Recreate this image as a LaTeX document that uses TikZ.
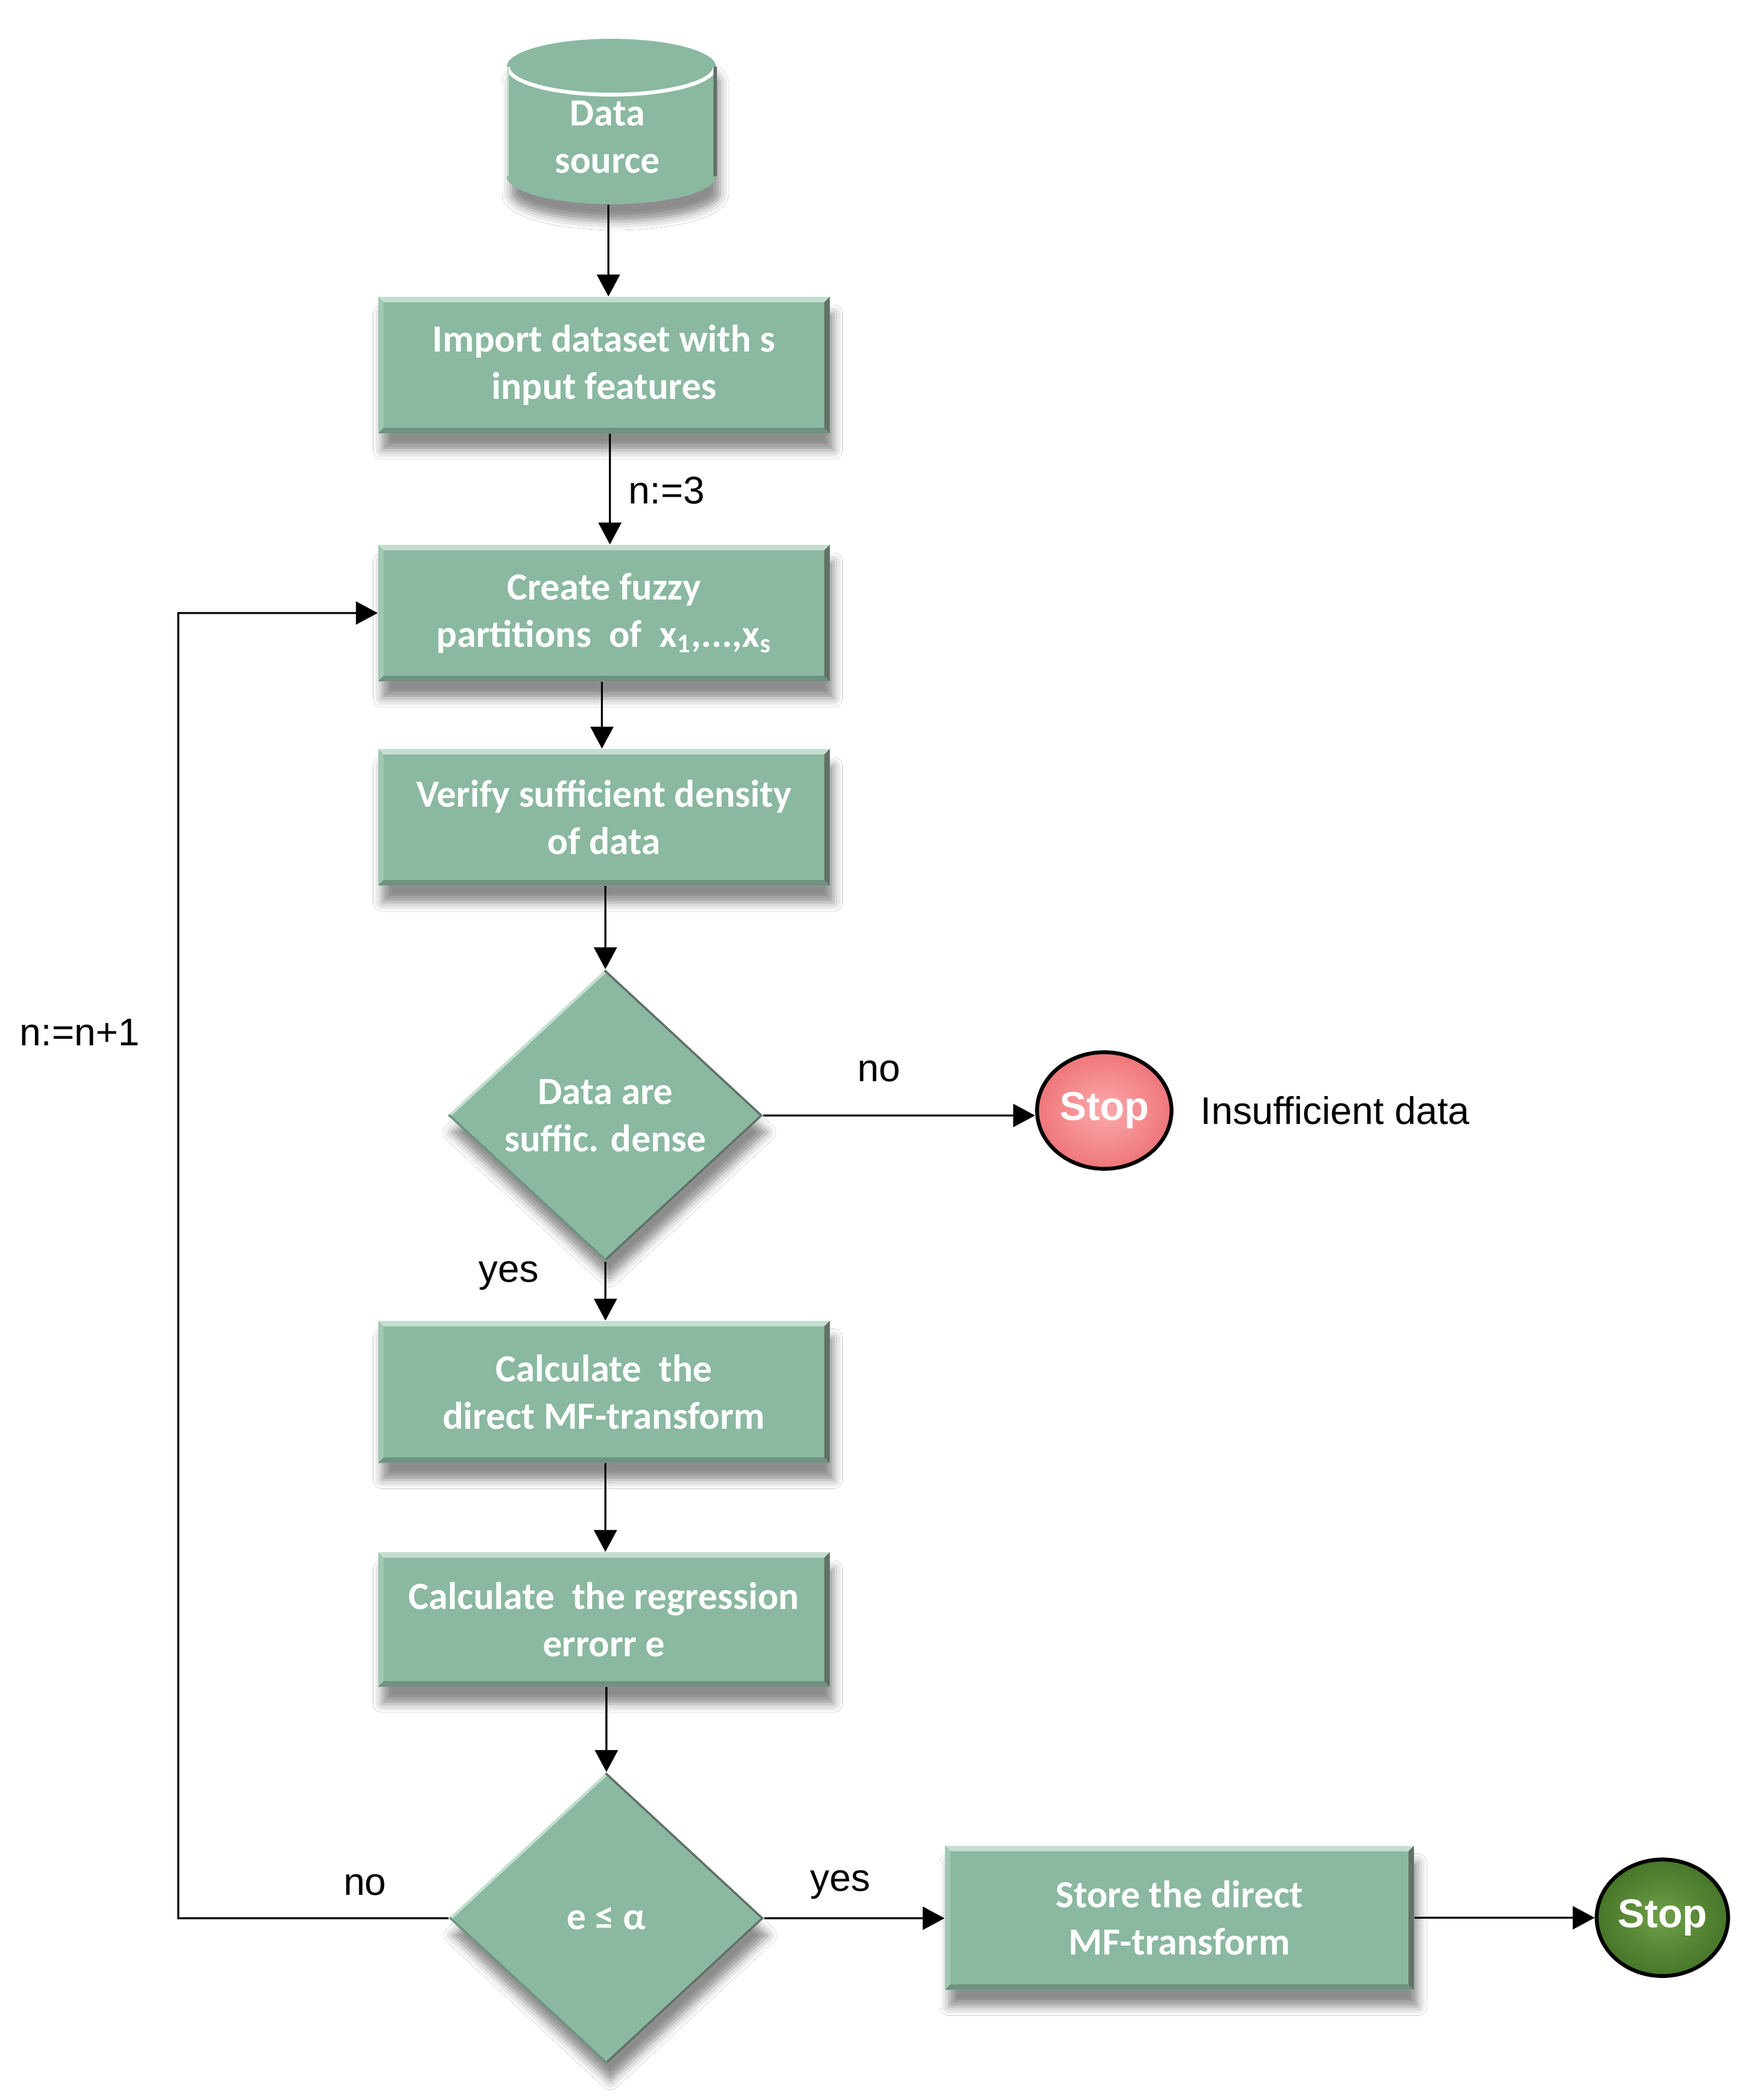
\documentclass[tikz,border=0pt]{standalone}
\usepackage{fontspec}
\setmainfont{Liberation Sans}
\newfontfamily\boxfnt{Carlito}
\usetikzlibrary{shapes.geometric,arrows.meta,shadows.blur}
\definecolor{boxgreen}{RGB}{138,184,160}
\definecolor{boxlight}{RGB}{196,222,208}
\definecolor{boxmid}{RGB}{160,200,178}
\definecolor{boxdark}{RGB}{112,146,128}
\definecolor{boxedge}{RGB}{98,112,104}
\definecolor{stopred}{RGB}{238,118,122}
\definecolor{stopredl}{RGB}{252,170,172}
\definecolor{stopgreen}{RGB}{70,118,40}
\definecolor{stopgreenl}{RGB}{112,160,72}
\newcommand\bev{0.11cm}
\tikzset{
  boxtext/.style={text=white, font=\boxfnt\bfseries\fontsize{22}{27}\selectfont, align=center},
  shad/.style={blur shadow={shadow xshift=0.08cm, shadow yshift=-0.34cm, shadow blur radius=0.18cm, shadow opacity=45}},
  procbox/.style={boxtext, rectangle, fill=boxgreen, minimum width=9.07cm, minimum height=2.74cm, inner sep=0pt, shad,
    path picture={
      \fill[boxlight] (path picture bounding box.north west) -- (path picture bounding box.north east) -- ([xshift=-\bev,yshift=-\bev]path picture bounding box.north east) -- ([xshift=\bev,yshift=-\bev]path picture bounding box.north west) -- cycle;
      \fill[boxmid] (path picture bounding box.north west) -- ([xshift=\bev,yshift=-\bev]path picture bounding box.north west) -- ([xshift=\bev,yshift=\bev]path picture bounding box.south west) -- (path picture bounding box.south west) -- cycle;
      \fill[boxdark] (path picture bounding box.south west) -- ([xshift=\bev,yshift=\bev]path picture bounding box.south west) -- ([xshift=-\bev,yshift=\bev]path picture bounding box.south east) -- (path picture bounding box.south east) -- cycle;
      \fill[boxedge] (path picture bounding box.north east) -- ([xshift=-\bev,yshift=-\bev]path picture bounding box.north east) -- ([xshift=-\bev,yshift=\bev]path picture bounding box.south east) -- (path picture bounding box.south east) -- cycle;
    }},
  decision/.style={boxtext, diamond, aspect=1.1, fill=boxgreen, minimum width=6.33cm, minimum height=5.86cm, inner sep=0pt, shad,
    path picture={
      \draw[boxlight, line width=3pt] (path picture bounding box.west) -- (path picture bounding box.north);
      \draw[boxedge, line width=2.4pt] (path picture bounding box.north) -- (path picture bounding box.east) -- (path picture bounding box.south);
      \draw[boxdark, line width=2.4pt] (path picture bounding box.south) -- (path picture bounding box.west);
    }},
  stopnode/.style={ellipse, draw=black, line width=2.2pt, minimum width=2.70cm, minimum height=2.34cm, inner sep=0pt,
    text=white, font=\bfseries\fontsize{23}{27}\selectfont},
  lbl/.style={font=\fontsize{22}{26}\selectfont, text=black, inner sep=0pt},
  arr/.style={-{Triangle[length=0.44cm,width=0.46cm]}, line width=1.2pt, black}
}
\begin{document}
\begin{tikzpicture}
\useasboundingbox (0,0) rectangle (35.19,-42.17);
\fill[white] (0,0) rectangle (35.19,-42.17);

% data source cylinder
\fill[boxgreen, shad] (10.18,-1.34) -- (10.18,-3.54) arc[start angle=180,end angle=360,x radius=2.10,y radius=0.56] -- (14.38,-1.34) arc[start angle=0,end angle=180,x radius=2.10,y radius=0.56] -- cycle;
\draw[white, line width=2.2pt] (10.20,-1.34) arc[start angle=180,end angle=360,x radius=2.08,y radius=0.56];
\draw[boxedge, line width=2pt] (14.36,-1.34) -- (14.36,-3.54);
\draw[boxlight, line width=1.2pt] (10.20,-1.34) -- (10.20,-3.54);
\node[minimum width=4.2cm, minimum height=3.32cm, inner sep=0pt] (ds) at (12.22,-2.44) {};
\node[boxtext] (dstext) at (12.20,-2.75) {Data\\source};

% main column
\node[procbox] (import) at (12.13,-7.33) {Import dataset with s\\input features};
\node[procbox] (create) at (12.13,-12.31) {Create fuzzy\\partitions\ \ of\ \ x\textsubscript{1},...,x\textsubscript{s}};
\node[procbox] (verify) at (12.13,-16.41) {Verify sufficient density\\of data};
\node[decision] (d1) at (12.16,-22.40) {Data are\\suffic. dense};
\node[procbox, minimum height=2.85cm] (calc1) at (12.13,-27.95) {Calculate\ \ the\\direct MF-transform};
\node[procbox, minimum height=2.70cm] (calc2) at (12.13,-32.52) {Calculate\ \ the regression\\errorr e};
\node[decision] (d2) at (12.18,-38.52) {e ≤ α};
\node[procbox, minimum width=9.42cm, minimum height=2.89cm] (store) at (23.69,-38.51) {Store the direct\\MF-transform};

% terminals
\node[stopnode, inner color=stopredl, outer color=stopred] (stop1) at (22.18,-22.30) {Stop};
\node[stopnode, minimum width=2.64cm, inner color=stopgreenl, outer color=stopgreen] (stop2) at (33.39,-38.51) {Stop};

% connectors
\draw[arr] (ds.south) -- (ds.south |- import.north);
\draw[arr] ([xshift=0.12cm]import.south) -- ([xshift=0.12cm]create.north);
\draw[arr] ([xshift=-0.04cm]create.south) -- ([xshift=-0.04cm]verify.north);
\draw[arr] ([xshift=0.03cm]verify.south) -- (d1.north);
\draw[arr] (d1.east) -- (stop1.west |- d1.east);
\draw[arr] (d1.south) -- (d1.south |- calc1.north);
\draw[arr] ([xshift=0.03cm]calc1.south) -- ([xshift=0.03cm]calc2.north);
\draw[arr] ([xshift=0.05cm]calc2.south) -- (d2.north);
\draw[arr] (d2.east) -- (store.west |- d2.east);
\draw[arr] (store.east) -- (stop2.west);
\coordinate (loopc) at (3.58,-30);
\draw[arr] (d2.west) -- (d2.west -| loopc) |- (create.west);

% labels
\node[lbl, anchor=west] (ln3) at (12.62,-9.85) {n:=3};
\node[lbl] (lno1) at (17.65,-21.51) {no};
\node[lbl, anchor=west] (linsuf) at (24.11,-22.30) {Insufficient data};
\node[lbl] (lyes1) at (10.22,-25.62) {yes};
\node[lbl] (lnn1) at (1.60,-20.73) {n:=n+1};
\node[lbl] (lno2) at (7.33,-37.85) {no};
\node[lbl] (lyes2) at (16.88,-37.85) {yes};
\end{tikzpicture}
\end{document}
